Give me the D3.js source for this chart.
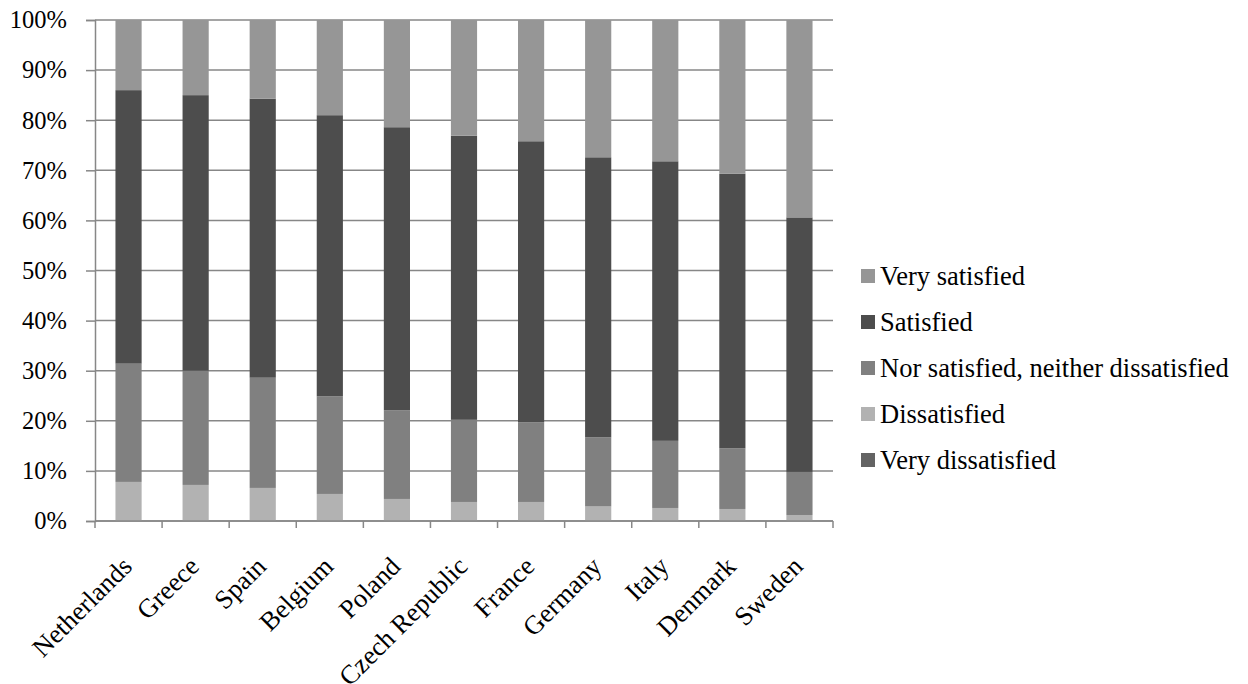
<!DOCTYPE html>
<html><head><meta charset="utf-8">
<script src="https://cdn.jsdelivr.net/npm/d3@7"></script>
</head><body style="margin:0"><svg id="c" width="1248" height="684" style="display:block;font-family:'Liberation Serif'"></svg>
<script>
const countries = ["Netherlands","Greece","Spain","Belgium","Poland","Czech Republic","France","Germany","Italy","Denmark","Sweden"];
const veryDissatisfied = [0,0,0,0,0,0,0,0,0,0,0];
const dissatisfied = [7.8,7.2,6.6,5.4,4.4,3.8,3.8,2.9,2.6,2.4,1.2];
const neither = [23.6,22.8,22.0,19.5,17.7,16.4,15.9,13.8,13.4,12.1,8.6];
const satisfied = [54.6,55.0,55.7,56.1,56.5,56.7,56.1,55.9,55.8,54.8,50.8];
const verySatisfied = [14.0,15.0,15.7,19.0,21.4,23.1,24.2,27.4,28.2,30.7,39.4];
const seriesNames = ["Very dissatisfied","Dissatisfied","Nor satisfied, neither dissatisfied","Satisfied","Very satisfied"];
const seriesColors = ["#636363","#b2b2b2","#808080","#4d4d4d","#969696"];
const yTicks = [0,10,20,30,40,50,60,70,80,90,100];

const FONT = '"Liberation Serif"';
const svg = d3.select("#c");
const L=95, R=833, T=20, B=521;
const x = d3.scaleBand().domain(countries).range([L,R]).paddingInner(0.61).paddingOuter(0.305);
const y = d3.scaleLinear().domain([0,100]).range([B,T]);

const rows = countries.map((c,i)=>{
  const vals=[veryDissatisfied[i],dissatisfied[i],neither[i],satisfied[i],verySatisfied[i]];
  const tot=d3.sum(vals);
  const o={country:c};
  seriesNames.forEach((s,j)=>o[s]=vals[j]/tot*100);
  return o;
});
const stacked = d3.stack().keys(seriesNames)(rows);

// gridlines
svg.append("g").selectAll("line").data(yTicks).join("line")
  .attr("x1",L).attr("x2",R).attr("y1",d=>y(d)).attr("y2",d=>y(d))
  .attr("stroke","#878787").attr("stroke-width",1.5);

// bars
svg.append("g").selectAll("g").data(stacked).join("g")
  .attr("fill",(d,i)=>seriesColors[i])
  .selectAll("rect").data(d=>d.filter(s=>s[1]-s[0]>0)).join("rect")
  .attr("x",d=>x(d.data.country)).attr("width",x.bandwidth())
  .attr("y",d=>y(d[1])).attr("height",d=>y(d[0])-y(d[1]));

// y axis
const yAxis = d3.axisLeft(y).tickValues(yTicks).tickFormat(d=>d+"%").tickSize(9).tickPadding(19);
const gy = svg.append("g").attr("transform",`translate(${L},0)`).call(yAxis);
gy.attr("font-family",null).attr("font-size",null);
gy.select(".domain").attr("stroke","#878787").attr("stroke-width",1.5);
gy.selectAll(".tick line").attr("stroke","#878787").attr("stroke-width",1.5);
gy.selectAll(".tick text").style("font-family",FONT).style("font-size","24.5px").attr("fill","#000");

// x axis
const xEdges = d3.range(countries.length+1).map(i=>L+(R-L)*i/countries.length);
svg.append("line").attr("x1",L).attr("x2",R).attr("y1",B).attr("y2",B).attr("stroke","#878787").attr("stroke-width",1.5);
svg.append("g").selectAll("line").data(xEdges).join("line")
  .attr("x1",d=>d).attr("x2",d=>d).attr("y1",B).attr("y2",B+7)
  .attr("stroke","#878787").attr("stroke-width",1.5);
svg.append("g").selectAll("text").data(countries).join("text")
  .attr("transform",d=>`translate(${x(d)+x.bandwidth()/2+5},${B+47}) rotate(-45)`)
  .attr("text-anchor","end").style("font-family",FONT).style("font-size","26.5px").attr("fill","#000").text(d=>d);

// legend
const legendOrder = [4,3,2,1,0];
const lg = svg.append("g").selectAll("g").data(legendOrder).join("g")
  .attr("transform",(d,i)=>`translate(861,${276+i*46})`);
lg.append("rect").attr("x",0).attr("y",-7).attr("width",14).attr("height",14).attr("fill",d=>seriesColors[d]);
lg.append("text").attr("x",19).attr("y",9).style("font-family",FONT).style("font-size","26.5px").attr("fill","#000").text(d=>seriesNames[d]);
</script></body></html>
